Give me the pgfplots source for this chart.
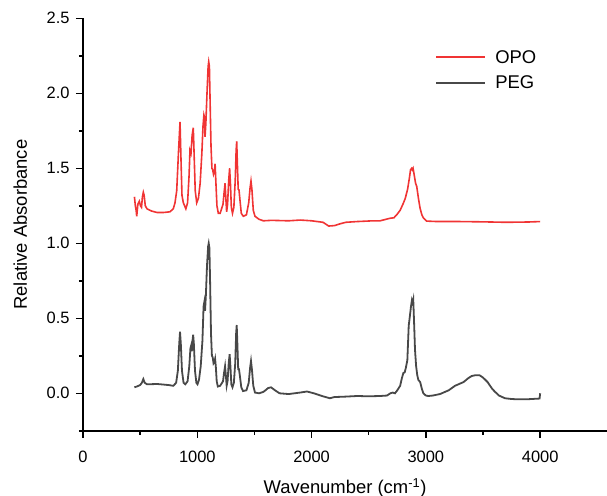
\documentclass[border=0pt]{standalone}
\usepackage{fontspec}
\setmainfont{Liberation Sans}
\usepackage{pgfplots}
\pgfplotsset{compat=1.18}
\definecolor{opored}{RGB}{240,52,52}
\definecolor{peggray}{RGB}{72,72,72}
\begin{document}
\begin{tikzpicture}
\begin{axis}[
  scale only axis, width=524bp, height=412.5bp,
  xmin=0, xmax=4585, ymin=-0.25, ymax=2.5,
  axis x line*=bottom, axis y line*=left,
  axis line style={line width=1.8bp, -},
  xtick={0,1000,2000,3000,4000}, minor xtick={500,1500,2500,3500},
  ytick={0,0.5,1,1.5,2,2.5}, minor ytick={-0.25,0.25,0.75,1.25,1.75,2.25},
  tick align=outside,
  major tick length=7bp, minor tick length=4bp,
  tick style={line width=1.5bp, black},
  /pgf/number format/assume math mode=true,
  /pgf/number format/1000 sep={},
  ticklabel style={font=\fontsize{16.5}{20}\selectfont},
  xticklabel style={yshift=-10bp},
  yticklabel style={xshift=-3bp, /pgf/number format/fixed, /pgf/number format/fixed zerofill, /pgf/number format/precision=1},
  every axis x label/.style={at={(rel axis cs:0.5,0)}, anchor=base, yshift=-62.5bp, font=\fontsize{18.5}{22}\selectfont},
  every axis y label/.style={at={(rel axis cs:0,0.5)}, rotate=90, anchor=base, yshift=56bp, font=\fontsize{18.5}{22}\selectfont},
  xlabel={Wavenumber (cm\textsuperscript{-1})},
  ylabel={Relative Absorbance},
  legend style={draw=none, fill=none, at={(rel axis cs:0.672,0.928)}, anchor=north west,
    font=\fontsize{18.5}{22}\selectfont, inner sep=0pt, row sep=7bp},
  legend cell align=left,
  legend image code/.code={\draw[#1] (0bp,0bp) -- (49bp,0bp);},
]
\addlegendimage{draw=opored, line width=2bp}
\addlegendentry{\hspace{7bp}OPO}
\addlegendimage{draw=peggray, line width=2bp}
\addlegendentry{\hspace{7bp}PEG}
\addplot[opored, line width=1.6bp, forget plot] coordinates {
(450,1.31) (458,1.25) (465,1.22) (470,1.18) (480,1.26) (493,1.28) (503,1.25) (512,1.24)
(520,1.31) (528,1.34) (535,1.32) (545,1.25) (560,1.23) (600,1.215) (650,1.205) (700,1.205)
(761,1.21) (790,1.23) (805,1.27) (820,1.35) (835,1.6) (849,1.81) (856,1.6) (866,1.32)
(878,1.27) (900,1.23) (915,1.27) (928,1.45) (936,1.62) (945,1.6) (955,1.72) (965,1.77)
(972,1.6) (982,1.35) (995,1.27) (1010,1.3) (1025,1.4) (1040,1.6) (1050,1.78) (1058,1.855)
(1063,1.84) (1068,1.71) (1075,1.8) (1085,2.0) (1095,2.18) (1100,2.21) (1106,2.18) (1112,1.95)
(1120,1.65) (1128,1.50) (1135,1.49) (1142,1.46) (1150,1.48) (1156,1.53) (1162,1.42) (1172,1.25)
(1184,1.20) (1200,1.2) (1225,1.26) (1235,1.34) (1243,1.40) (1250,1.30) (1257,1.21) (1265,1.26)
(1275,1.42) (1283,1.50) (1290,1.40) (1298,1.24) (1308,1.20) (1320,1.24) (1332,1.42) (1340,1.62)
(1345,1.68) (1350,1.55) (1358,1.36) (1365,1.355) (1372,1.30) (1385,1.2) (1403,1.18) (1430,1.19)
(1450,1.27) (1462,1.37) (1470,1.415) (1478,1.36) (1490,1.22) (1505,1.18) (1540,1.16) (1578,1.15)
(1650,1.153) (1800,1.15) (1900,1.155) (2000,1.15) (2100,1.14) (2150,1.115) (2200,1.118) (2250,1.13)
(2300,1.14) (2400,1.145) (2511,1.149) (2600,1.15) (2687,1.167) (2720,1.17) (2745,1.19) (2775,1.22)
(2803,1.267) (2820,1.30) (2840,1.36) (2855,1.43) (2866,1.49) (2876,1.50) (2882,1.49) (2888,1.50)
(2895,1.47) (2910,1.40) (2920,1.38) (2935,1.30) (2949,1.235) (2965,1.19) (2978,1.17) (3007,1.148)
(3100,1.145) (3300,1.145) (3500,1.143) (3700,1.14) (3900,1.142) (4000,1.145)
};
\addplot[peggray, line width=1.8bp, forget plot] coordinates {
(450,0.04) (470,0.045) (500,0.055) (515,0.07) (528,0.095) (540,0.07) (560,0.06) (650,0.062)
(750,0.055) (790,0.05) (815,0.07) (830,0.15) (842,0.33) (849,0.41) (856,0.33) (866,0.15)
(880,0.07) (895,0.06) (915,0.08) (930,0.18) (940,0.30) (947,0.32) (952,0.28) (958,0.35)
(964,0.39) (970,0.33) (980,0.15) (992,0.07) (1002,0.06) (1015,0.09) (1030,0.18) (1045,0.35)
(1055,0.58) (1062,0.61) (1068,0.55) (1075,0.65) (1085,0.85) (1095,0.98) (1100,1.00) (1106,0.97)
(1112,0.75) (1120,0.40) (1128,0.25) (1135,0.24) (1142,0.20) (1150,0.21) (1156,0.23) (1162,0.18)
(1170,0.08) (1180,0.045) (1200,0.05) (1225,0.08) (1235,0.14) (1243,0.18) (1250,0.12) (1257,0.05)
(1265,0.08) (1275,0.2) (1283,0.26) (1290,0.18) (1298,0.06) (1308,0.04) (1320,0.07) (1332,0.2)
(1340,0.40) (1345,0.455) (1350,0.35) (1358,0.16) (1365,0.16) (1372,0.12) (1385,0.04) (1400,0.015)
(1430,0.02) (1450,0.07) (1462,0.17) (1470,0.215) (1478,0.16) (1490,0.05) (1505,0.005) (1540,0.0)
(1580,0.01) (1620,0.035) (1645,0.04) (1680,0.02) (1720,0.0) (1800,-0.005) (1900,0.005) (1960,0.012)
(2020,0.0) (2100,-0.02) (2160,-0.033) (2200,-0.025) (2300,-0.022) (2400,-0.018) (2500,-0.02) (2600,-0.018)
(2660,-0.015) (2690,0.0) (2710,0.005) (2730,0.0) (2750,0.02) (2775,0.05) (2790,0.1) (2803,0.135)
(2815,0.14) (2825,0.17) (2838,0.22) (2850,0.45) (2861,0.52) (2870,0.58) (2878,0.62) (2885,0.60)
(2890,0.62) (2898,0.45) (2905,0.29) (2915,0.18) (2925,0.12) (2934,0.09) (2950,0.075) (2965,0.03)
(2978,0.0) (3000,-0.015) (3022,-0.018) (3060,-0.015) (3124,-0.005) (3200,0.02) (3255,0.05) (3300,0.065)
(3330,0.075) (3370,0.1) (3400,0.115) (3430,0.12) (3470,0.12) (3500,0.105) (3540,0.075) (3580,0.03)
(3605,0.01) (3640,-0.015) (3692,-0.033) (3750,-0.038) (3800,-0.04) (3882,-0.04) (3950,-0.037) (3995,-0.035)
(4000,0.0)
};
\coordinate (ll) at (rel axis cs:0,0);
\coordinate (ur) at (rel axis cs:1,1);
\end{axis}
\pgfresetboundingbox
\path[use as bounding box] ([shift={(-83bp,-65.2bp)}]ll) rectangle ([shift={(0bp,18.3bp)}]ur);
\end{tikzpicture}
\end{document}
